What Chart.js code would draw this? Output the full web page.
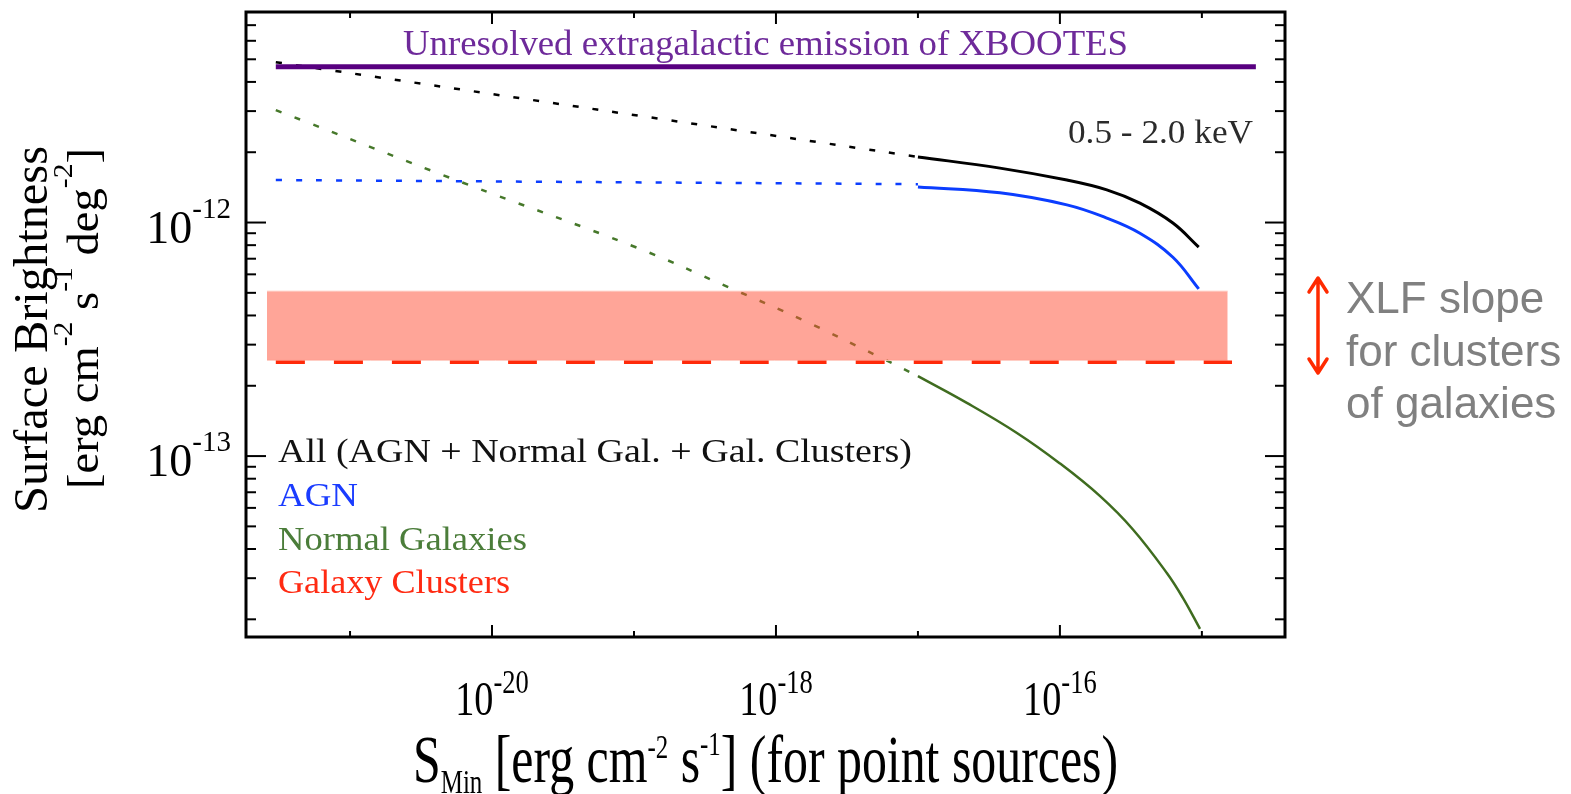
<!DOCTYPE html>
<html>
<head>
<meta charset="utf-8">
<title>Surface brightness vs S_min</title>
<script src="https://cdn.jsdelivr.net/npm/chart.js@4.4.1/dist/chart.umd.min.js"></script>
<style>
	body { margin: 0; background: #fff; }
	#wrap { width: 1571px; height: 794px; }
</style>
</head>
<body>
<div id="wrap"><canvas id="sbChart" width="1571" height="794"></canvas></div>
<script>
// axis limits (S_min in erg cm^-2 s^-1, surface brightness in erg cm^-2 s^-1 deg^-2)
const xRange = [1.85e-22, 3.85e-15];
const yRange = [1.68e-14, 7.97e-12];

// unresolved extragalactic emission of XBOOTES
const unresX = [3.0e-22, 2.4e-15];
const unresY = [4.64e-12, 4.64e-12];

// all sources
const allDotX = [3.0e-22, 1.0e-17];
const allDotY = [4.86e-12, 1.91e-12];
const allX = [1.0e-17, 3.78e-17, 1.12e-16, 2.14e-16, 3.66e-16, 6.25e-16, 9.5e-16];
const allY = [1.91e-12, 1.71e-12, 1.52e-12, 1.38e-12, 1.21e-12, 9.95e-13, 7.85e-13];

// AGN
const agnDotX = [3.0e-22, 1.0e-17];
const agnDotY = [1.52e-12, 1.46e-12];
const agnX = [1.0e-17, 3.78e-17, 1.12e-16, 2.14e-16, 3.66e-16, 6.25e-16, 9.5e-16];
const agnY = [1.42e-12, 1.34e-12, 1.19e-12, 1.045e-12, 9.0e-13, 7.1e-13, 5.2e-13];

// normal galaxies
const galDotX = [3.0e-22, 6.25e-21, 1.05e-19, 4.74e-19, 1.55e-18, 5.4e-18, 1.0e-17];
const galDotY = [3.03e-12, 1.48e-12, 7.8e-13, 5.25e-13, 3.82e-13, 2.65e-13, 2.2e-13];
const galX = [1.0e-17, 2.21e-17, 4.98e-17, 1.0e-16, 1.91e-16, 3.27e-16, 5.68e-16, 7.35e-16, 9.7e-16];
const galY = [2.2e-13, 1.69e-13, 1.256e-13, 9.3e-14, 6.75e-14, 4.85e-14, 3.15e-14, 2.47e-14, 1.82e-14];

// galaxy clusters (XLF slope band + dashed level)
const bandX = [2.6e-22, 1.52e-15];
const bandTop = [5.09e-13, 5.09e-13];
const bandBottom = [2.57e-13, 2.57e-13];
const clusterX = [3.0e-22, 1.63e-15];
const clusterY = [2.52e-13, 2.52e-13];

// ticks
const xMajorTicks = [1e-20, 1e-18, 1e-16];
const xTickExps = ['-20', '-18', '-16'];
const xMinorTicks = [1e-21, 1e-19, 1e-17, 1e-15];
const yMajorTicks = [1e-13, 1e-12];
const yTickExps = ['-13', '-12'];
const yMinorTicks = [2e-14, 3e-14, 4e-14, 5e-14, 6e-14, 7e-14, 8e-14, 9e-14,
	2e-13, 3e-13, 4e-13, 5e-13, 6e-13, 7e-13, 8e-13, 9e-13,
	2e-12, 3e-12, 4e-12, 5e-12, 6e-12, 7e-12];

const legendLabels = ['All (AGN + Normal Gal. + Gal. Clusters)', 'AGN', 'Normal Galaxies', 'Galaxy Clusters'];

const SERIF = '"Liberation Serif", "DejaVu Serif", serif';
const SANS = '"Liberation Sans", Arial, sans-serif';

const pts = (xs, ys) => xs.map((v, i) => ({x: v, y: ys[i]}));

function line(label, xs, ys, color, width, dash, extra) {
	return Object.assign({
		label: label,
		data: pts(xs, ys),
		borderColor: color,
		borderWidth: width,
		borderDash: dash || [],
		pointRadius: 0,
		fill: false,
		tension: 0.4
	}, extra || {});
}

// text made of runs (normal / sup / sub), optionally squeezed to a width
function drawRuns(ctx, runs, x, y, o) {
	const fam = o.family || SERIF;
	let w = 0;
	runs.forEach(r => {
		ctx.font = r.size + 'px ' + fam;
		r.w = ctx.measureText(r.t).width;
		w += r.w;
	});
	const sx = o.width ? o.width / w : (o.sx || 1);
	const total = w * sx;
	const start = o.align === 'center' ? x - total / 2 : (o.align === 'right' ? x - total : x);
	ctx.save();
	ctx.fillStyle = o.color || '#000';
	ctx.textAlign = 'left';
	ctx.textBaseline = 'alphabetic';
	ctx.translate(start, y);
	ctx.scale(sx, 1);
	let cx = 0;
	runs.forEach(r => {
		ctx.font = r.size + 'px ' + fam;
		ctx.fillText(r.t, cx, r.dy || 0);
		cx += r.w;
	});
	ctx.restore();
}

const whiteBg = {
	id: 'whiteBg',
	beforeDraw(chart) {
		const ctx = chart.ctx;
		ctx.save();
		ctx.fillStyle = '#fff';
		ctx.fillRect(0, 0, chart.width, chart.height);
		ctx.restore();
	}
};

// box with inward ticks on all four sides
const frame = {
	id: 'frame',
	afterDatasetsDraw(chart) {
		const {ctx, chartArea: a, scales: {x, y}} = chart;
		ctx.save();
		ctx.strokeStyle = '#000';
		ctx.lineWidth = 2;
		const seg = (x1, y1, x2, y2) => {
			ctx.beginPath(); ctx.moveTo(x1, y1); ctx.lineTo(x2, y2); ctx.stroke();
		};
		const xt = (v, len) => {
			const p = x.getPixelForValue(v);
			seg(p, a.bottom, p, a.bottom - len);
			seg(p, a.top, p, a.top + len);
		};
		const yt = (v, len) => {
			const p = y.getPixelForValue(v);
			seg(a.left, p, a.left + len, p);
			seg(a.right, p, a.right - len, p);
		};
		xMajorTicks.forEach(v => xt(v, 12));
		xMinorTicks.forEach(v => xt(v, 6));
		yMajorTicks.forEach(v => yt(v, 20));
		yMinorTicks.forEach(v => yt(v, 10));
		ctx.lineWidth = 3;
		ctx.strokeRect(a.left, a.top, a.right - a.left, a.bottom - a.top);
		ctx.restore();
	}
};

const labels = {
	id: 'labels',
	afterDraw(chart) {
		const {ctx, scales: {x, y}} = chart;

		// tick labels
		xMajorTicks.forEach((v, i) => {
			drawRuns(ctx, [{t: '10', size: 49}, {t: xTickExps[i], size: 34, dy: -22}],
				x.getPixelForValue(v), 715, {align: 'center', sx: 0.78});
		});
		yMajorTicks.forEach((v, i) => {
			const p = y.getPixelForValue(v);
			drawRuns(ctx, [{t: '10', size: 46}, {t: yTickExps[i], size: 29, dy: -25}],
				231, p + 20, {align: 'right'});
		});

		// axis titles
		drawRuns(ctx, [
			{t: 'S', size: 68}, {t: 'Min', size: 34, dy: 11}, {t: ' [erg cm', size: 68},
			{t: '-2', size: 34, dy: -24}, {t: ' s', size: 68}, {t: '-1', size: 34, dy: -27},
			{t: '] (for point sources)', size: 68}
		], 413, 782, {width: 705});

		ctx.save();
		ctx.translate(47, 329.5);
		ctx.rotate(-Math.PI / 2);
		drawRuns(ctx, [{t: 'Surface Brightness', size: 48}], 0, 0, {align: 'center', width: 367});
		ctx.restore();

		ctx.save();
		ctx.translate(98, 318.5);
		ctx.rotate(-Math.PI / 2);
		drawRuns(ctx, [
			{t: '[erg cm', size: 44}, {t: '-2', size: 28, dy: -26}, {t: ' s', size: 44},
			{t: '-1', size: 28, dy: -26}, {t: ' deg', size: 44}, {t: '-2', size: 28, dy: -26},
			{t: ']', size: 44}
		], 0, 0, {align: 'center', width: 341});
		ctx.restore();

		// in-plot annotations
		drawRuns(ctx, [{t: 'Unresolved extragalactic emission of XBOOTES', size: 35}], 403, 55,
			{width: 725, color: '#6e2a9a'});
		drawRuns(ctx, [{t: '0.5 - 2.0 keV', size: 34}], 1068, 143, {width: 185, color: '#2b2b2b'});

		const legColors = ['#111111', '#1a3cff', '#4b7d3a', '#ff2a12'];
		const legBase = [462, 506, 550, 593];
		const legWidth = [634, 80, 249, 232];
		legendLabels.forEach((t, i) => {
			drawRuns(ctx, [{t: t, size: 33}], 278, legBase[i], {width: legWidth[i], color: legColors[i]});
		});

		// XLF slope note with double arrow
		ctx.save();
		ctx.strokeStyle = '#ff2a00';
		ctx.lineWidth = 3.5;
		ctx.lineCap = 'round';
		ctx.lineJoin = 'round';
		ctx.beginPath();
		ctx.moveTo(1318, 279); ctx.lineTo(1318, 372);
		ctx.moveTo(1309, 292); ctx.lineTo(1318, 278); ctx.lineTo(1327, 292);
		ctx.moveTo(1309, 359); ctx.lineTo(1318, 373); ctx.lineTo(1327, 359);
		ctx.stroke();
		ctx.restore();
		['XLF slope', 'for clusters', 'of galaxies'].forEach((t, i) => {
			drawRuns(ctx, [{t: t, size: 44}], 1346, [313, 366, 418][i], {family: SANS, color: '#808080'});
		});
	}
};

const ctx = document.getElementById('sbChart').getContext('2d');

const sbChart = new Chart(ctx, {
	type: 'line',
	data: {
		datasets: [
			line('Unresolved', unresX, unresY, '#580080', 5),
			line('Galaxy Clusters', clusterX, clusterY, '#ff2a0a', 3.5, [29, 29]),
			line('XLF band top', bandX, bandTop, 'rgba(255,220,212,1)', 1, null,
				{fill: '+1', backgroundColor: 'rgba(255,75,50,0.5)'}),
			line('XLF band bottom', bandX, bandBottom, 'rgba(255,220,212,1)', 1),
			line('All (extrapolated)', allDotX, allDotY, '#000000', 2.5, [6, 14]),
			line('All', allX, allY, '#000000', 3),
			line('AGN (extrapolated)', agnDotX, agnDotY, '#0b3dff', 2.5, [6, 14]),
			line('AGN', agnX, agnY, '#0b3dff', 3),
			line('Normal Galaxies (extrapolated)', galDotX, galDotY, '#46782a', 2.5, [6, 14]),
			line('Normal Galaxies', galX, galY, '#3f6c1f', 2.5)
		]
	},
	options: {
		responsive: false,
		animation: false,
		layout: {padding: {left: 246, top: 12, right: 286, bottom: 157}},
		scales: {
			x: {type: 'logarithmic', display: false, min: xRange[0], max: xRange[1]},
			y: {type: 'logarithmic', display: false, min: yRange[0], max: yRange[1]}
		},
		plugins: {
			legend: {display: false},
			tooltip: {enabled: false}
		}
	},
	plugins: [whiteBg, frame, labels]
});
</script>
</body>
</html>
